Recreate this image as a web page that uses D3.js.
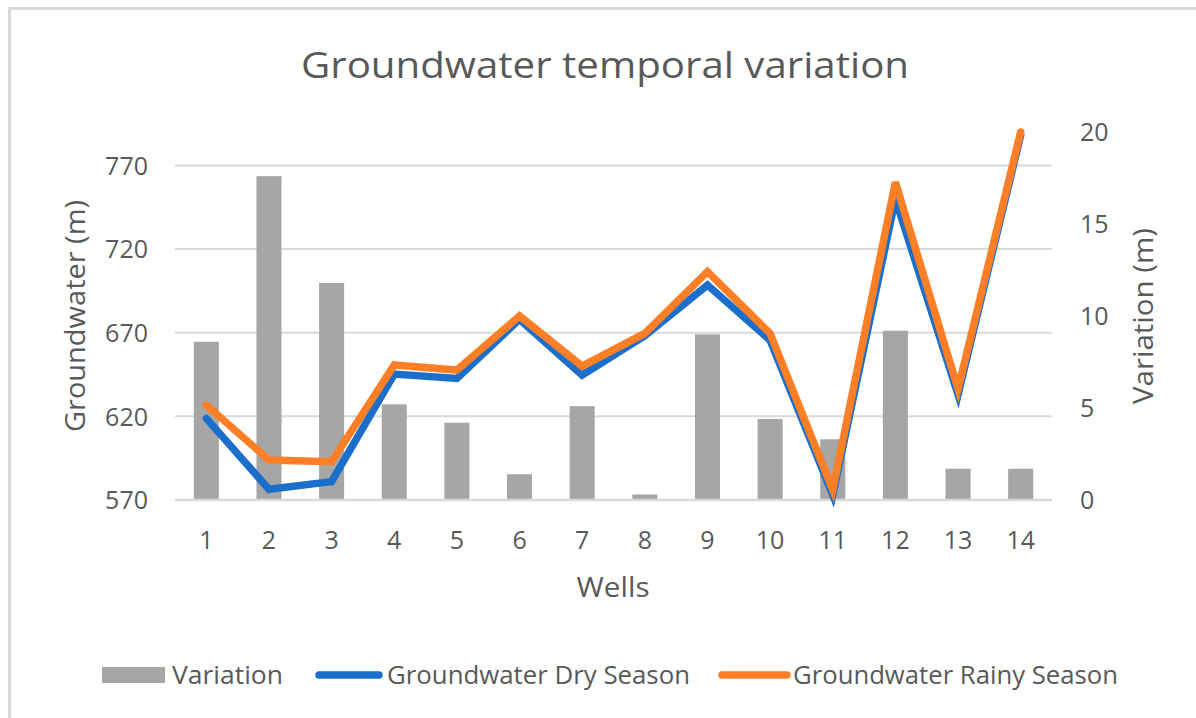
<!DOCTYPE html>
<html>
<head>
<meta charset="utf-8">
<script src="https://cdn.jsdelivr.net/npm/d3@7"></script>
<style>
  html, body { margin: 0; padding: 0; background: #fff; }
  svg { display: block; }
  text { font-family: "Open Sans", "Liberation Sans", sans-serif; fill: #595959; }
</style>
</head>
<body>
<svg id="chart" width="1196" height="718"></svg>
<script>
// ---- data ----
const wells = ["1","2","3","4","5","6","7","8","9","10","11","12","13","14"];
const variation = [8.6, 17.6, 11.8, 5.2, 4.2, 1.4, 5.1, 0.3, 9.0, 4.4, 3.3, 9.2, 1.7, 1.7];
const drySeason = [618.8, 576.4, 581.0, 645.3, 642.7, 678.0, 644.7, 668.2, 698.5, 665.5, 573.0, 750.0, 633.0, 788.0];
const rainySeason = [626.8, 593.9, 592.9, 650.7, 647.7, 680.0, 650.0, 669.6, 706.5, 669.6, 576.0, 760.0, 636.5, 790.0];
const leftTicks = [570, 620, 670, 720, 770];
const rightTicks = [0, 5, 10, 15, 20];
const seriesNames = ["Variation", "Groundwater Dry Season", "Groundwater Rainy Season"];

// ---- layout ----
const svg = d3.select("#chart");
const plot = { left: 175, right: 1052, top: 132, bottom: 500 };
const colors = { bar: "#a6a6a6", dry: "#1b6fcb", rainy: "#ff7f27", grid: "#d9d9d9" };

// outer frame
svg.append("rect").attr("x", 9.5).attr("y", 8.5).attr("width", 1200).attr("height", 720)
  .attr("fill", "none").attr("stroke", "#d9d9d9").attr("stroke-width", 3);

const x = d3.scaleBand().domain(wells).range([plot.left, plot.right])
  .paddingInner(0.6).paddingOuter(0.3);
const yL = d3.scaleLinear().domain([570, 790]).range([plot.bottom, plot.top]);
const yR = d3.scaleLinear().domain([0, 20]).range([plot.bottom, plot.top]);

// gridlines
svg.append("g").selectAll("line").data(leftTicks.slice(1)).join("line")
  .attr("x1", plot.left).attr("x2", plot.right)
  .attr("y1", d => yL(d)).attr("y2", d => yL(d))
  .attr("stroke", colors.grid).attr("stroke-width", 2);

// bars
svg.append("g").selectAll("rect").data(variation).join("rect")
  .attr("x", (d, i) => x(wells[i]))
  .attr("width", x.bandwidth())
  .attr("y", d => yR(d))
  .attr("height", d => yR(0) - yR(d))
  .attr("fill", colors.bar);

// baseline
svg.append("line").attr("x1", plot.left).attr("x2", plot.right)
  .attr("y1", plot.bottom).attr("y2", plot.bottom)
  .attr("stroke", colors.grid).attr("stroke-width", 2.5);

// lines
const line = d3.line().x((d, i) => x(wells[i]) + x.bandwidth() / 2).y(d => yL(d));
svg.append("path").datum(drySeason).attr("d", line)
  .attr("fill", "none").attr("stroke", colors.dry).attr("stroke-width", 7.5)
  .attr("stroke-linejoin", "miter").attr("stroke-linecap", "round");
svg.append("path").datum(rainySeason).attr("d", line)
  .attr("fill", "none").attr("stroke", colors.rainy).attr("stroke-width", 7.5)
  .attr("stroke-linejoin", "miter").attr("stroke-linecap", "round");

// left axis labels
const axL = d3.axisLeft(yL).tickValues(leftTicks).tickSize(0).tickPadding(0);
const gL = svg.append("g").attr("transform", `translate(148,0)`).call(axL);
gL.select(".domain").remove();
gL.selectAll("text").style("font-size", "25px").style("fill", "#595959")
  .style("font-family", null).attr("dy", "0.35em");

// right axis labels
const axR = d3.axisRight(yR).tickValues(rightTicks).tickSize(0).tickPadding(0);
const gR = svg.append("g").attr("transform", `translate(1080,0)`).call(axR);
gR.select(".domain").remove();
gR.selectAll("text").style("font-size", "25px").style("fill", "#595959")
  .style("font-family", null).attr("dy", "0.35em");

// x axis labels
const axX = d3.axisBottom(x).tickSize(0).tickPadding(0);
const gX = svg.append("g").attr("transform", `translate(0,540)`).call(axX);
gX.select(".domain").remove();
gX.selectAll("text").style("font-size", "25px").style("fill", "#595959")
  .style("font-family", null).attr("dy", "0.35em");

// titles
svg.append("text").attr("x", 605).attr("y", 65).attr("dy", "0.35em")
  .attr("text-anchor", "middle").style("font-size", "36px")
  .attr("textLength", 608).attr("lengthAdjust", "spacingAndGlyphs")
  .text("Groundwater temporal variation");

svg.append("text").attr("x", 613).attr("y", 587).attr("dy", "0.35em")
  .attr("text-anchor", "middle").style("font-size", "28px")
  .attr("textLength", 73).attr("lengthAdjust", "spacingAndGlyphs")
  .text("Wells");

svg.append("text").attr("transform", "translate(75,316) rotate(-90)").attr("dy", "0.35em")
  .attr("text-anchor", "middle").style("font-size", "28px")
  .attr("textLength", 232).attr("lengthAdjust", "spacingAndGlyphs")
  .text("Groundwater (m)");

svg.append("text").attr("transform", "translate(1143,316) rotate(-90)").attr("dy", "0.35em")
  .attr("text-anchor", "middle").style("font-size", "28px")
  .attr("textLength", 176).attr("lengthAdjust", "spacingAndGlyphs")
  .text("Variation (m)");

// legend
const legY = 675;
const lg = svg.append("g");
lg.append("rect").attr("x", 102).attr("y", legY - 8).attr("width", 63).attr("height", 16).attr("fill", colors.bar);
lg.append("line").attr("x1", 319).attr("x2", 379).attr("y1", legY).attr("y2", legY)
  .attr("stroke", colors.dry).attr("stroke-width", 7.5).attr("stroke-linecap", "round");
lg.append("line").attr("x1", 722).attr("x2", 787).attr("y1", legY).attr("y2", legY)
  .attr("stroke", colors.rainy).attr("stroke-width", 7.5).attr("stroke-linecap", "round");
const legText = [
  { x: 172, w: 111 }, { x: 387, w: 303 }, { x: 793, w: 325 }
];
lg.selectAll("text.leg").data(seriesNames).join("text").attr("class", "leg")
  .attr("x", (d, i) => legText[i].x).attr("y", legY).attr("dy", "0.35em")
  .style("font-size", "25px")
  .attr("textLength", (d, i) => legText[i].w).attr("lengthAdjust", "spacingAndGlyphs")
  .text(d => d);
</script>
</body>
</html>
